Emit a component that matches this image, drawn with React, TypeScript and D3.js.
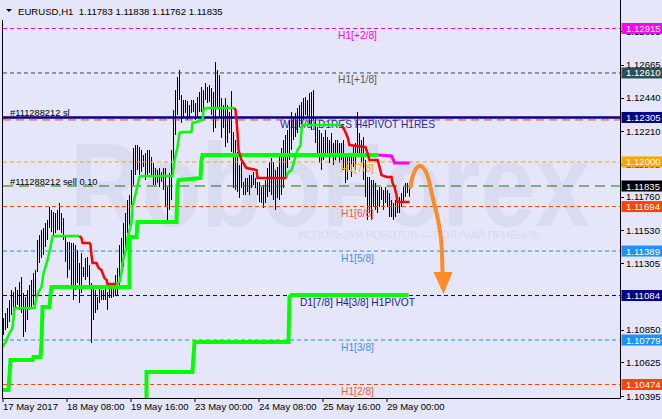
import React from 'react';
import * as d3 from 'd3';

// EURUSD H1 bars, one value per hour from 17 May 00:00
const highs = [
  1.10930, 1.10964, 1.10998, 1.11053, 1.11122, 1.11108, 1.11142, 1.11122, 1.11177, 1.11211, 1.11101, 1.11074, 1.11122, 1.11156, 1.11191, 1.11238,
  1.11259, 1.11465, 1.11499, 1.11533, 1.11547, 1.11581, 1.11602, 1.11691, 1.11671, 1.11657, 1.11650, 1.11671, 1.11718, 1.11650, 1.11615, 1.11499,
  1.11451, 1.11451, 1.11444, 1.11444, 1.11430, 1.11396, 1.11307, 1.11375, 1.11280, 1.11341, 1.11348, 1.11293, 1.11170, 1.11142, 1.11122, 1.11074,
  1.11142, 1.11122, 1.11122, 1.11136, 1.11108, 1.11136, 1.11136, 1.11142, 1.11225, 1.11273, 1.11430, 1.11478, 1.11581, 1.11650, 1.11739, 1.11773,
  1.11945, 1.12096, 1.12116, 1.12116, 1.12102, 1.12082, 1.12048, 1.12061, 1.12082, 1.12082, 1.12034, 1.11993, 1.11958, 1.11945, 1.11958, 1.11931,
  1.11958, 1.11958, 1.11828, 1.11924, 1.12082, 1.12356, 1.12493, 1.12582, 1.12630, 1.12459, 1.12425, 1.12425, 1.12418, 1.12390, 1.12425, 1.12425,
  1.12404, 1.12445, 1.12480, 1.12514, 1.12493, 1.12541, 1.12514, 1.12528, 1.12507, 1.12480, 1.12685, 1.12630, 1.12596, 1.12438, 1.12390, 1.12438,
  1.12390, 1.12342, 1.12486, 1.12205, 1.12150, 1.12068, 1.11979, 1.12048, 1.11862, 1.11890, 1.11890, 1.11910, 1.11910, 1.11931, 1.11890, 1.11862,
  1.11862, 1.11828, 1.11842, 1.11876, 1.11958, 1.11999, 1.12027, 1.11999, 1.11945, 1.11965, 1.12061, 1.12096, 1.12150, 1.12185, 1.12219, 1.12288,
  1.12342, 1.12308, 1.12336, 1.12370, 1.12390, 1.12411, 1.12438, 1.12445, 1.12425, 1.12473, 1.12480, 1.12493, 1.12308, 1.12240, 1.12219, 1.12198,
  1.12171, 1.12219, 1.12171, 1.12150, 1.12198, 1.12130, 1.12150, 1.12150, 1.12130, 1.12130, 1.12150, 1.12061, 1.12034, 1.12061, 1.12034, 1.12102,
  1.12130, 1.12342, 1.12198, 1.12150, 1.12171, 1.12013, 1.11897, 1.11897, 1.11876, 1.11876, 1.11856, 1.11808, 1.11828, 1.11828, 1.11808, 1.11828,
  1.11808, 1.11787, 1.11739, 1.11718, 1.11739, 1.11760, 1.11760, 1.11787, 1.11828, 1.11856, 1.11856, 1.11838,
];
const lows = [
  1.10813, 1.10847, 1.10861, 1.10902, 1.10950, 1.10971, 1.11005, 1.11019, 1.10985, 1.10964, 1.10800, 1.10834, 1.10916, 1.10985, 1.10998, 1.11019,
  1.11053, 1.11245, 1.11307, 1.11341, 1.11362, 1.11417, 1.11465, 1.11547, 1.11519, 1.11499, 1.11512, 1.11533, 1.11533, 1.11512, 1.11465, 1.11314,
  1.11204, 1.11259, 1.11142, 1.11053, 1.11122, 1.11170, 1.11033, 1.11101, 1.11211, 1.11191, 1.11211, 1.11156, 1.10758, 1.10916, 1.10964, 1.10985,
  1.11033, 1.11053, 1.11053, 1.11053, 1.10985, 1.11067, 1.11067, 1.11074, 1.11088, 1.11088, 1.11142, 1.11211, 1.11280, 1.11396, 1.11512, 1.11568,
  1.11705, 1.11842, 1.11910, 1.11945, 1.11910, 1.11931, 1.11965, 1.11876, 1.11910, 1.11924, 1.11897, 1.11842, 1.11842, 1.11856, 1.11828, 1.11862,
  1.11808, 1.11691, 1.11602, 1.11671, 1.11739, 1.11965, 1.12185, 1.12322, 1.12425, 1.12267, 1.12301, 1.12336, 1.12288, 1.12308, 1.12336, 1.12342,
  1.12288, 1.12301, 1.12342, 1.12342, 1.12356, 1.12425, 1.12404, 1.12411, 1.12322, 1.12205, 1.12233, 1.12370, 1.12301, 1.12164, 1.12233, 1.12102,
  1.12130, 1.12198, 1.12068, 1.11821, 1.11808, 1.11794, 1.11753, 1.11821, 1.11773, 1.11773, 1.11794, 1.11773, 1.11821, 1.11842, 1.11821, 1.11773,
  1.11725, 1.11718, 1.11684, 1.11718, 1.11760, 1.11794, 1.11773, 1.11739, 1.11671, 1.11753, 1.11739, 1.11773, 1.11821, 1.11890, 1.11958, 1.12013,
  1.12082, 1.12150, 1.12171, 1.12198, 1.12240, 1.12253, 1.12288, 1.12322, 1.12308, 1.12267, 1.12219, 1.12288, 1.12130, 1.12061, 1.11993, 1.11945,
  1.12013, 1.12061, 1.12034, 1.11993, 1.12034, 1.11979, 1.12013, 1.12034, 1.11993, 1.12013, 1.11945, 1.11856, 1.11876, 1.11945, 1.11897, 1.11965,
  1.11945, 1.12061, 1.12034, 1.11993, 1.11876, 1.11760, 1.11602, 1.11650, 1.11602, 1.11691, 1.11671, 1.11650, 1.11691, 1.11739, 1.11671, 1.11718,
  1.11691, 1.11622, 1.11622, 1.11602, 1.11622, 1.11650, 1.11650, 1.11691, 1.11718, 1.11760, 1.11787, 1.11762,
];

// indicator lines, [bar index, price]
const thinGreen1 = [[-0.5, 1.10731], [1, 1.10765], [3, 1.10827], [4.5, 1.10861], [5, 1.1093], [5.5, 1.10998], [15.5, 1.10998], [16.5, 1.11074], [17.5, 1.11108], [19, 1.11142], [20, 1.11238], [21, 1.1128], [22, 1.11328], [23.5, 1.11417], [24.5, 1.11492], [38, 1.11492]];
const thinRed1 = [[38, 1.11492], [39, 1.11478], [39.5, 1.11444], [43, 1.11444], [43.5, 1.1143], [44, 1.11362], [44.5, 1.11307], [46.5, 1.11307], [47.5, 1.11273], [49, 1.11259], [49.5, 1.11238], [50.5, 1.11204], [51.5, 1.11191], [52, 1.11163], [56.5, 1.11163]];
const thinGreen2 = [[56.5, 1.11163], [58, 1.11177], [59, 1.11238], [59.5, 1.11307], [60.5, 1.11362], [61.5, 1.11417], [62, 1.11478], [64, 1.11588], [64.5, 1.11691], [66.5, 1.11808], [68, 1.11897], [69, 1.11904], [84.5, 1.11904], [85.5, 1.12013], [87, 1.12102], [88, 1.12198], [89, 1.12205], [94, 1.12205], [94.5, 1.12267], [99.5, 1.12288], [100, 1.12356], [101.5, 1.1237], [115.5, 1.1237]];
const thinRed2 = [[115.5, 1.1237], [116, 1.12356], [116.5, 1.12288], [117, 1.12198], [117.5, 1.12082], [119, 1.12013], [120.5, 1.11979], [121.5, 1.11958], [126.5, 1.11945], [127, 1.1189], [141.5, 1.1189]];
const thinGreen3 = [[141.5, 1.1189], [142, 1.11924], [144, 1.11945], [145.5, 1.12013], [147, 1.12082], [148.5, 1.12116], [149, 1.12219], [149.5, 1.12253], [169, 1.12253]];
const thinRed3 = [[169, 1.12253], [170.5, 1.12219], [172, 1.12171], [173, 1.12116], [181, 1.12102], [182, 1.12061], [183, 1.12013], [187, 1.12013], [187.5, 1.11993], [189, 1.1191], [191.5, 1.11897], [194, 1.11897], [194.5, 1.11856], [195.5, 1.11828], [196.5, 1.11773], [197, 1.11725], [203, 1.11725]];
const thickGreen = [[-0.5, 1.10436], [2.5, 1.10436], [3, 1.10539], [3.5, 1.10642], [14.5, 1.10642], [15, 1.10662], [18.5, 1.10662], [19, 1.10758], [19.5, 1.11005], [23, 1.11005], [23.5, 1.11088], [24, 1.11142], [63, 1.11142], [63, 1.11485], [66.5, 1.11485], [67, 1.11588], [86.5, 1.11588], [87, 1.11842], [87.5, 1.11876], [98.5, 1.1189], [99, 1.12013], [99.5, 1.12048], [187.5, 1.12048]];
const magentaLine = [[187.5, 1.12048], [194, 1.12041], [195, 1.12013], [195.5, 1.11993], [203, 1.11993]];
const lowerGreen = [[71.5, 1.10370], [71.5, 1.1056], [94.5, 1.1056], [95.5, 1.10765], [142.5, 1.10765], [143, 1.11074], [144, 1.11088], [202.5, 1.11088]];

const arrowCurve = [[203.5, 1.11828], [204.5, 1.11897], [206.5, 1.11958], [208, 1.11972], [209.5, 1.11965], [211.5, 1.11924], [213, 1.11856], [214.5, 1.1176], [216.5, 1.1165], [218, 1.11547], [219, 1.1143], [219.5, 1.11245]];
const arrowHead = [[215, 1.11245], [224.5, 1.11245], [220, 1.11094]];

// murrey levels
const levelPrices = [1.12915, 1.12610, 1.12305, 1.12000, 1.11694, 1.11389, 1.11084, 1.10779, 1.10474];
const levelNames = ['H1[+2/8]', 'H1[+1/8]', 'W1[3/8] D1RES H4PIVOT H1RES', 'H1[7/8]', 'H1[6/8]', 'H1[5/8]', 'D1[7/8] H4[3/8] H1PIVOT', 'H1[3/8]', 'H1[2/8]'];
const levelColors = ['#ff00ff', '#2f4f4f', '#000080', '#ffa500', '#ff4500', '#1e90ff', '#000080', '#1e90ff', '#ff4500'];
const levelTextColors = ['#ff00ff', '#5a5a5a', '#2a2a9c', '#ffa500', '#ff5a36', '#3a96f0', '#1c1c8a', '#3a96f0', '#ff5a36'];

const sellPrice = 1.11835;
const slPrice = 1.12288;
const bidPrice = 1.11835;

const priceTicks = [1.12895, 1.12665, 1.12440, 1.12210, 1.11985, 1.11760, 1.11530, 1.11305, 1.11075, 1.10850, 1.10625, 1.10395];
const timeTickIdx = [0, 32, 64, 96, 128, 160, 192];
const timeTickLabels = ['17 May 2017', '18 May 08:00', '19 May 16:00', '23 May 00:00', '24 May 08:00', '25 May 16:00', '29 May 00:00'];

const BG = '#e6e6fa';
const FONT = '"Liberation Sans", Arial, sans-serif';

const App: React.FC = () => {
  const width = 662;
  const height = 419;
  const left = 3;
  const right = 620;
  const bottom = 398;

  const x = d3.scaleLinear().domain([0, 1]).range([3.5, 5.5]);
  const y = d3.scaleLinear().domain([1.10474, 1.12915]).range([384.5, 28.5]);

  const line = d3.line<number[]>().x(d => x(d[0])).y(d => y(d[1]));
  const curve = d3.line<number[]>().x(d => x(d[0])).y(d => y(d[1])).curve(d3.curveCatmullRom);

  const labelIdx = 177;

  const boxes: [number, string][] = [
    [levelPrices[0], levelColors[0]],
    [levelPrices[1], levelColors[1]],
    [levelPrices[2], levelColors[2]],
    [levelPrices[3], levelColors[3]],
    [bidPrice, '#000000'],
    [levelPrices[4], levelColors[4]],
    [levelPrices[5], levelColors[5]],
    [levelPrices[6], levelColors[6]],
    [levelPrices[7], levelColors[7]],
    [levelPrices[8], levelColors[8]],
  ];

  return (
    <svg width={width} height={height} style={{ position: 'absolute', left: 0, top: 0, fontFamily: FONT }}>
      <defs>
        <clipPath id="plot">
          <rect x={left} y={0} width={right - left} height={bottom} />
        </clipPath>
      </defs>
      <rect width={width} height={height} fill={BG} />

      {/* watermark */}
      <text x={70} y={226} fontSize={118} fontWeight="bold" fill="#d9dcf1" textLength={520} lengthAdjust="spacingAndGlyphs">RoboForex</text>
      <text x={298} y={239} fontSize={10.5} fill="#d6d9f0" textLength={242} lengthAdjust="spacingAndGlyphs">ИСПОЛЬЗУЙ РОБОТОВ — ПОЛУЧАЙ ПРИБЫЛЬ</text>

      {/* header */}
      <path d="M6,9 L12,9 L9,12 Z" fill="#000" />
      <text x={18} y={15} fontSize={9.6} fill="#000" style={{ whiteSpace: 'pre' }}>EURUSD,H1  1.11783 1.11838 1.11762 1.11835</text>

      <g clipPath="url(#plot)">
        {/* bars */}
        {highs.map((h, i) => (
          <line key={i} x1={x(i)} x2={x(i)} y1={y(h)} y2={Math.max(y(lows[i]), y(h) + 1)} stroke="#000" strokeWidth={1} />
        ))}

        {/* level lines */}
        {levelPrices.map((p, i) => (
          <line key={'l' + i} x1={left} x2={right} y1={y(p)} y2={y(p)} stroke={levelColors[i]}
            strokeWidth={i === 2 ? 2.5 : 1} strokeDasharray={i === 2 ? undefined : '4,3'} />
        ))}
        <line x1={left} x2={right} y1={y(slPrice)} y2={y(slPrice)} stroke="#ff3c14" strokeDasharray="8,5" />
        <line x1={left} x2={right} y1={y(sellPrice)} y2={y(sellPrice)} stroke="#008000" strokeDasharray="10,6" />

        {/* labels */}
        {levelNames.map((t, i) => (
          <text key={'t' + i} x={x(labelIdx)} y={y(levelPrices[i]) + 10.5} fontSize={10.2} textAnchor="middle" fill={levelTextColors[i]}>{t}</text>
        ))}
        <text x={10} y={y(levelPrices[2]) - 1.5} fontSize={9.3} fill="#000">#111288212 sl</text>
        <text x={10} y={y(sellPrice) - 1} fontSize={9.3} fill="#000">#111288212 sell 0.10</text>

        {/* indicator lines */}
        <path d={line(lowerGreen) || ''} fill="none" stroke="#00ff00" strokeWidth={4} />
        <path d={line(thickGreen) || ''} fill="none" stroke="#00ff00" strokeWidth={4} />
        <path d={line(magentaLine) || ''} fill="none" stroke="#ff00ff" strokeWidth={3} />
        {[thinGreen1, thinGreen2, thinGreen3].map((s, i) => (
          <path key={'g' + i} d={line(s) || ''} fill="none" stroke="#00ff00" strokeWidth={2.5} />
        ))}
        {[thinRed1, thinRed2, thinRed3].map((s, i) => (
          <path key={'r' + i} d={line(s) || ''} fill="none" stroke="#ff0000" strokeWidth={2.5} />
        ))}

        {/* forecast arrow */}
        <path d={curve(arrowCurve) || ''} fill="none" stroke="#ff8c26" strokeWidth={4} strokeLinecap="round" />
        <path d={(line(arrowHead) || '') + 'Z'} fill="#ff8c26" />
      </g>

      {/* frame */}
      <line x1={2.5} x2={2.5} y1={20} y2={bottom + 0.5} stroke="#000" />
      <line x1={2.5} x2={right + 0.5} y1={bottom + 0.5} y2={bottom + 0.5} stroke="#000" />
      <line x1={right + 0.5} x2={right + 0.5} y1={0} y2={bottom + 0.5} stroke="#000" />

      {/* price axis */}
      {priceTicks.map(p => (
        <g key={p}>
          <line x1={right} x2={right + 4} y1={Math.round(y(p)) + 0.5} y2={Math.round(y(p)) + 0.5} stroke="#000" />
          <text x={626} y={y(p) + 3.5} fontSize={9.6} fill="#000">{p.toFixed(5)}</text>
        </g>
      ))}
      {boxes.map(([p, c]) => (
        <g key={'b' + p + c}>
          <rect x={621.5} y={y(p) - 5.5} width={41} height={11} fill={c} />
          <text x={626} y={y(p) + 3.5} fontSize={9.6} fill="#fff">{p.toFixed(5)}</text>
        </g>
      ))}

      {/* time axis */}
      {timeTickIdx.map((t, i) => (
        <g key={'x' + t}>
          <line x1={x(t) - 0.5} x2={x(t) - 0.5} y1={bottom} y2={bottom + 4} stroke="#000" />
          <text x={x(t) - 0.5} y={410} fontSize={9.5} fill="#000">{timeTickLabels[i]}</text>
        </g>
      ))}
    </svg>
  );
};

export default App;
